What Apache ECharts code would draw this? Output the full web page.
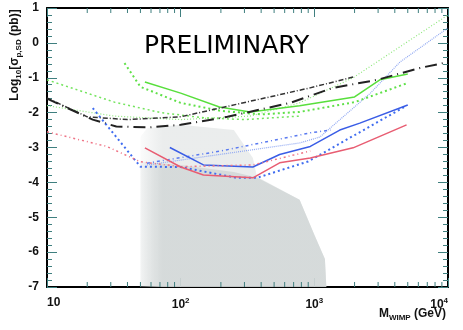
<!DOCTYPE html>
<html>
<head>
<meta charset="utf-8">
<script src="https://cdn.jsdelivr.net/npm/echarts@6/dist/echarts.min.js"></script>
<style>
  html, body { margin: 0; padding: 0; background: #fff; }
  #chart { width: 463px; height: 330px; }
</style>
</head>
<body>
<div id="chart"></div>
<script>
// limits: [M_WIMP (GeV), log10 sigma]
const blackDashDot = [[10, -1.58], [20, -2.12], [40, -2.2], [100, -2.12], [930, -1.29], [1950, -0.98]];
const blackLongDash = [[10, -1.6], [22, -2.2], [33, -2.4], [59, -2.42], [100, -2.35], [224, -2.12], [660, -1.72], [1380, -1.29], [2950, -1.06], [6170, -0.72], [10000, -0.55]];
const greenSolid = [[54, -1.12], [100, -1.44], [195, -1.84], [330, -1.98], [776, -1.8], [2000, -1.55], [3090, -1.06], [5000, -0.89]];
const greenDotted = [[38, -0.58], [50, -1.26], [100, -1.72], [200, -1.95], [400, -2.05], [776, -1.98], [2000, -1.7], [5000, -1.15]];
const greenDashDot = [[10, -1.06], [32, -1.7], [71, -2.0], [150, -2.15], [300, -2.2], [776, -2.1]];
const greenThin = [[10, -1.8], [32, -2.1], [100, -2.2], [330, -2.1], [776, -1.72], [1950, -1.0], [10000, 0.8]];
const blueSolid = [[83, -3.0], [148, -3.5], [347, -3.56], [550, -3.2], [933, -2.97], [1550, -2.5], [2190, -2.3], [5000, -1.78]];
const blueDotted = [[22, -1.87], [50, -3.55], [100, -3.56], [263, -3.87], [372, -3.87], [900, -3.4], [4900, -1.8]];
const blueDashDot = [[56, -3.45], [200, -3.1], [933, -2.58], [1320, -2.5]];
const blueThin = [[56, -3.5], [776, -2.87], [1100, -2.7], [2630, -1.44], [4370, -0.55], [10000, 0.43]];
const redSolid = [[54, -3.01], [100, -3.56], [148, -3.79], [347, -3.87], [550, -3.44], [933, -3.3], [1950, -3.01], [4900, -2.35]];
const redDotted = [[10, -2.55], [28, -2.97], [50, -3.41], [100, -3.55], [347, -3.5], [933, -3.1]];
// grey model region: faint upper edge and dense upper edge
const modelOuter = [[50, -2.7], [56, -2.45], [100, -2.35], [250, -2.5], [347, -3.3], [372, -3.84], [776, -4.5], [1000, -5.5], [1200, -6.2], [1230, -7]];
const modelInner = [[50, -3.4], [100, -3.5], [250, -3.7], [372, -3.86], [776, -4.5], [1000, -5.5], [1200, -6.2], [1230, -7]];

const yMin = -7, yMax = 1;
const decades = [10, 100, 1000];
const minorX = [];
decades.forEach(d => { for (let k = 2; k <= 9; k++) minorX.push([k * d, yMin]); });

const tickColor = '#3f7f7f';

function line(data, color, width, type) {
  return {
    type: 'line', data: data, symbol: 'none', smooth: false, z: 5,
    lineStyle: { color: color, width: width, type: type }
  };
}

function region(data, a0, a1) {
  return {
    type: 'line', data: data, symbol: 'none', z: 1,
    lineStyle: { width: 0 },
    areaStyle: {
      origin: 'start', opacity: 1,
      color: new echarts.graphic.LinearGradient(0, 0, 1, 0, [
        { offset: 0, color: 'rgba(210,215,215,' + a0 + ')' },
        { offset: 0.12, color: 'rgba(210,215,215,' + a1 + ')' },
        { offset: 1, color: 'rgba(210,215,215,' + a1 + ')' }
      ])
    }
  };
}

const chart = echarts.init(document.getElementById('chart'));

const xLabel = {
  fontFamily: 'Liberation Sans', fontWeight: 'bold', fontSize: 12, color: '#111', margin: 10,
  alignMinLabel: 'left', alignMaxLabel: 'right',
  formatter: function (v) {
    const e = Math.round(Math.log10(v));
    return e === 1 ? '{b|10}' : '{b|10}{s|' + e + '}';
  },
  rich: {
    b: { fontFamily: 'Liberation Sans', fontWeight: 'bold', fontSize: 12, color: '#111' },
    s: { fontFamily: 'Liberation Sans', fontWeight: 'bold', fontSize: 8, color: '#111', padding: [0, 0, 8, 0] }
  }
};

const option = {
  animation: false,
  grid: { left: 47, right: 15, top: 8, bottom: 43 },
  xAxis: [
    {
      type: 'log', logBase: 10, min: 10, max: 10000,
      axisLine: { onZero: false, lineStyle: { color: '#000', width: 2 } },
      axisTick: { inside: true, length: 9, lineStyle: { color: tickColor, width: 1 } },
      axisLabel: xLabel,
      splitLine: { show: false }
    },
    {
      type: 'log', logBase: 10, min: 10, max: 10000, position: 'top',
      axisLine: { onZero: false, lineStyle: { color: '#000', width: 2 } },
      axisTick: { inside: true, length: 9, lineStyle: { color: tickColor, width: 1 } },
      axisLabel: { show: false },
      splitLine: { show: false }
    }
  ],
  yAxis: [
    {
      type: 'value', min: yMin, max: yMax, interval: 1,
      axisLine: { show: true, onZero: false, lineStyle: { color: '#000', width: 2 } },
      axisTick: { inside: true, length: 10, lineStyle: { color: tickColor, width: 1 } },
      minorTick: { show: true, splitNumber: 5, length: 5, lineStyle: { color: tickColor, width: 1 } },
      axisLabel: { fontFamily: 'Liberation Sans', fontWeight: 'bold', fontSize: 12, color: '#111', margin: 8 },
      splitLine: { show: false }
    },
    {
      type: 'value', min: yMin, max: yMax, interval: 1, position: 'right',
      axisLine: { show: true, onZero: false, lineStyle: { color: '#000', width: 2 } },
      axisTick: { inside: true, length: 10, lineStyle: { color: tickColor, width: 1 } },
      minorTick: { show: true, splitNumber: 5, length: 5, lineStyle: { color: tickColor, width: 1 } },
      axisLabel: { show: false },
      splitLine: { show: false }
    }
  ],
  graphic: [
    {
      type: 'text', left: 144, top: 34, z: 20,
      style: { text: 'PRELIMINARY', font: '25px "DejaVu Sans"', fill: '#000' }
    },
    {
      type: 'text', x: 15, y: 55, rotation: Math.PI / 2, z: 20,
      style: {
        text: '{b|Log}{s|10}{b|[σ}{s|p,SD}{b| (pb)]}',
        align: 'center', verticalAlign: 'middle',
        rich: {
          b: { fontFamily: 'Liberation Sans', fontWeight: 'bold', fontSize: 12, fill: '#111' },
          s: { fontFamily: 'Liberation Sans', fontWeight: 'bold', fontSize: 8, fill: '#111', padding: [7, 0, 0, 0] }
        }
      }
    },
    {
      type: 'text', x: 446, y: 314, z: 20,
      style: {
        text: '{b|M}{s|WIMP}{b| (GeV)}',
        align: 'right', verticalAlign: 'middle',
        rich: {
          b: { fontFamily: 'Liberation Sans', fontWeight: 'bold', fontSize: 12, fill: '#111' },
          s: { fontFamily: 'Liberation Sans', fontWeight: 'bold', fontSize: 8, fill: '#111', padding: [7, 0, 0, 0] }
        }
      }
    }
  ],
  series: [
    region(modelOuter, 0.1, 0.45),
    region(modelInner, 0.2, 0.85),
    {
      type: 'custom', data: minorX, z: 6, clip: false,
      renderItem: function (params, api) {
        const b = api.coord([api.value(0), yMin]);
        const t = api.coord([api.value(0), yMax]);
        return {
          type: 'group', children: [
            { type: 'line', shape: { x1: b[0], y1: b[1], x2: b[0], y2: b[1] - 5 }, style: { stroke: tickColor, lineWidth: 1 } },
            { type: 'line', shape: { x1: t[0], y1: t[1], x2: t[0], y2: t[1] + 5 }, style: { stroke: tickColor, lineWidth: 1 } }
          ]
        };
      }
    },
    line(greenThin, '#8fe87c', 1.2, [1, 2]),
    line(blueThin, '#90a8f2', 1.2, [1, 1]),
    line(greenDashDot, '#74e45e', 1.5, [2, 3]),
    line(greenDotted, '#5fe048', 2, [2, 3]),
    line(greenSolid, '#58df3c', 1.5, 'solid'),
    line(blackDashDot, '#333', 1.5, [5, 2, 1, 2]),
    line(blackLongDash, '#222', 2, [12, 5, 1, 5]),
    line(blueDashDot, '#5a7af0', 1.5, [3, 3, 1, 3]),
    line(blueDotted, '#3f6cf0', 2, [2, 3]),
    line(blueSolid, '#3a5de6', 1.5, 'solid'),
    line(redDotted, '#ef7486', 1.5, [2, 3, 1, 3]),
    line(redSolid, '#e85d72', 1.5, 'solid')
  ]
};

chart.setOption(option);
</script>
</body>
</html>
